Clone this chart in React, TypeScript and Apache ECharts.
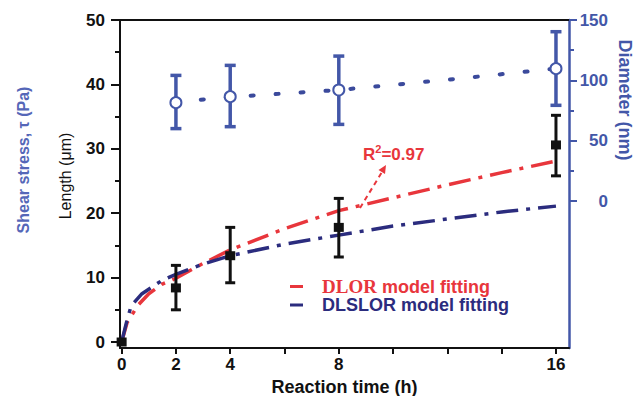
import React, { useEffect, useRef } from "react";
import * as echarts from "echarts";

// ---- data ----
const timeTicks = [0, 2, 4, 6, 8, 10, 12, 14, 16];
const timeLabels = [0, 2, 4, 8, 16];
const lengthMajor = [0, 10, 20, 30, 40, 50];
const lengthMinor = [5, 15, 25, 35, 45];
const diamMajor = [0, 50, 100, 150];
const diamMinor = [25, 75, 125];

const lengthT = [0, 2, 4, 8, 16];
const lengthMean = [0, 8.4, 13.4, 17.8, 30.6];
const lengthLow = [0, 5.0, 9.2, 13.2, 25.8];
const lengthHigh = [0, 11.9, 17.8, 22.3, 35.2];

const diamT = [2, 4, 8, 16];
const diamMean = [81.5, 86.5, 92.0, 109.7];
const diamLow = [60.0, 61.6, 63.5, 79.3];
const diamHigh = [104.1, 112.4, 120.1, 140.3];

const diamTrendT = [2, 4, 8, 12, 16];
const diamTrendV = [82.0, 86.2, 92.0, 100.5, 109.7];

const dlorT = [0, 0.2, 0.6, 1.0, 1.5, 2, 3, 4, 6, 8, 10, 12, 14, 16];
const dlorV = [0, 3.0, 5.7, 7.5, 9.0, 9.9, 12.2, 14.3, 17.6, 20.4, 22.4, 24.4, 26.3, 28.1];

const dlslorT = [0, 0.2, 0.35, 0.75, 1.5, 2, 3, 4, 6, 8, 10, 12, 14, 16];
const dlslorV = [0, 3.4, 5.6, 7.5, 9.6, 10.5, 12.1, 13.4, 15.2, 16.6, 18.0, 19.1, 20.2, 21.1];

const RED = "#e8363c";
const NAVY = "#2b2c7e";
const BLUE = "#4357a8";
const FONT = "Liberation Sans, Arial, sans-serif";
const SERIF = "Liberation Serif, Times New Roman, serif";

function errorBar(color: string, lw: number, halfCap: number) {
  return (params: any, api: any) => {
    const x = api.value(0);
    const lo = api.value(1);
    const hi = api.value(2);
    if (lo === hi) return null;
    const a = api.coord([x, hi]);
    const b = api.coord([x, lo]);
    const style = { stroke: color, lineWidth: lw };
    return {
      type: "group",
      children: [
        { type: "line", shape: { x1: a[0], y1: a[1], x2: b[0], y2: b[1] }, style },
        { type: "line", shape: { x1: a[0] - halfCap, y1: a[1], x2: a[0] + halfCap, y2: a[1] }, style },
        { type: "line", shape: { x1: b[0] - halfCap, y1: b[1], x2: b[0] + halfCap, y2: b[1] }, style },
      ],
    };
  };
}

const zip = (a: number[], b: number[]) => a.map((v, i) => [v, b[i]]);

export default function App() {
  const ref = useRef<HTMLDivElement>(null);
  useEffect(() => {
    const chart = echarts.init(ref.current!, null, { renderer: "svg" });
    const xMin = -0.06;
    const xMax = 16.48;
    const lMin = -0.93;
    const lMax = 50;
    const dMin = -121.8;
    const dMax = 150;
    const option: any = {
      animation: false,
      backgroundColor: "#fff",
      grid: { left: 120, right: 67, top: 20, bottom: 48, containLabel: false, outerBoundsMode: "none" },
      xAxis: [
        {
          type: "value",
          position: "bottom",
          min: xMin,
          max: xMax,
          splitLine: { show: false },
          axisLine: { onZero: false, lineStyle: { color: "#111", width: 2 } },
          axisTick: { customValues: timeTicks, length: 6, lineStyle: { color: "#111", width: 2 } },
          axisLabel: {
            customValues: timeLabels,
            color: "#111",
            fontWeight: "bold",
            fontSize: 17,
            fontFamily: FONT,
            margin: 8,
          },
          name: "Reaction time (h)",
          nameLocation: "middle",
          nameGap: 30,
          nameTextStyle: { color: "#111", fontWeight: "bold", fontSize: 18, fontFamily: FONT },
        },
        {
          type: "value",
          position: "top",
          min: xMin,
          max: xMax,
          splitLine: { show: false },
          axisLine: { onZero: false, lineStyle: { color: "#111", width: 2 } },
          axisTick: { show: false },
          axisLabel: { show: false },
        },
      ],
      yAxis: [
        {
          type: "value",
          position: "left",
          min: lMin,
          max: lMax,
          splitLine: { show: false },
          axisLine: { show: true, onZero: false, lineStyle: { color: "#111", width: 2 } },
          axisTick: { show: true, customValues: lengthMajor, length: 9, lineStyle: { color: "#111", width: 2 } },
          axisLabel: {
            customValues: lengthMajor,
            color: "#111",
            fontWeight: "bold",
            fontSize: 17,
            fontFamily: FONT,
            margin: 15,
          },
        },
        {
          type: "value",
          position: "right",
          min: dMin,
          max: dMax,
          splitLine: { show: false },
          axisLine: { show: true, onZero: false, lineStyle: { color: BLUE, width: 2.5 } },
          axisTick: { show: true, customValues: diamMajor, length: 8, lineStyle: { color: BLUE, width: 2 } },
          axisLabel: {
            customValues: diamMajor,
            color: BLUE,
            fontWeight: "bold",
            fontSize: 17,
            fontFamily: FONT,
            align: "right",
            margin: 39,
          },
        },
        {
          type: "value",
          position: "left",
          min: lMin,
          max: lMax,
          splitLine: { show: false },
          axisLine: { show: false, onZero: false },
          axisTick: { show: true, customValues: lengthMinor, length: 5, lineStyle: { color: "#111", width: 2 } },
          axisLabel: { show: false },
        },
        {
          type: "value",
          position: "right",
          min: dMin,
          max: dMax,
          splitLine: { show: false },
          axisLine: { show: false, onZero: false },
          axisTick: { show: true, customValues: diamMinor, length: 5, lineStyle: { color: BLUE, width: 2 } },
          axisLabel: { show: false },
        },
      ],
      legend: {
        show: true,
        orient: "vertical",
        left: 290,
        top: 277,
        padding: 0,
        itemGap: 0,
        itemWidth: 13,
        itemHeight: 3,
        icon: "rect",
        selectedMode: false,
        data: ["DLOR model fitting", "DLSLOR model fitting"],
        formatter: (name: string) =>
          name === "DLOR model fitting"
            ? "{p| }{sr|DLOR} {tr|model fitting}"
            : "{p| }{tn|DLSLOR model fitting}",
        textStyle: {
          fontSize: 18,
          fontFamily: FONT,
          rich: {
            p: { width: 14, fontSize: 18 },
            sr: { color: RED, fontWeight: "bold", fontSize: 19, fontFamily: SERIF },
            tr: { color: RED, fontWeight: "bold", fontSize: 18, fontFamily: FONT },
            tn: { color: NAVY, fontWeight: "bold", fontSize: 18, fontFamily: FONT },
          },
        },
      },
      series: [
        {
          name: "DLOR model fitting",
          type: "line",
          xAxisIndex: 0,
          yAxisIndex: 0,
          data: zip(dlorT, dlorV),
          showSymbol: false,
          itemStyle: { color: RED },
          lineStyle: { color: RED, width: 3.5, type: [22, 8, 4, 8] },
          z: 2,
        },
        {
          name: "DLSLOR model fitting",
          type: "line",
          xAxisIndex: 0,
          yAxisIndex: 0,
          data: zip(dlslorT, dlslorV),
          showSymbol: false,
          itemStyle: { color: NAVY },
          lineStyle: { color: NAVY, width: 3.5, type: [22, 8, 4, 8] },
          z: 2,
        },
        {
          name: "Diameter trend",
          type: "line",
          xAxisIndex: 0,
          yAxisIndex: 1,
          data: zip(diamTrendT, diamTrendV),
          showSymbol: false,
          itemStyle: { color: "#3b4a9c" },
          lineStyle: { color: "#3b4a9c", width: 4, type: [3, 22], cap: "round" },
          z: 2,
        },
        {
          name: "Length error",
          type: "custom",
          xAxisIndex: 0,
          yAxisIndex: 0,
          renderItem: errorBar("#111", 3, 5),
          encode: { x: 0, y: [1, 2] },
          data: lengthT.map((t, i) => [t, lengthLow[i], lengthHigh[i]]),
          clip: false,
          z: 3,
        },
        {
          name: "Length",
          type: "scatter",
          xAxisIndex: 0,
          yAxisIndex: 0,
          data: zip(lengthT, lengthMean),
          symbol: "rect",
          symbolSize: [10, 9],
          itemStyle: { color: "#111", opacity: 1 },
          z: 4,
        },
        {
          name: "Diameter error",
          type: "custom",
          xAxisIndex: 0,
          yAxisIndex: 1,
          renderItem: errorBar(BLUE, 3.5, 5.5),
          encode: { x: 0, y: [1, 2] },
          data: diamT.map((t, i) => [t, diamLow[i], diamHigh[i]]),
          clip: false,
          z: 3,
        },
        {
          name: "Diameter",
          type: "scatter",
          xAxisIndex: 0,
          yAxisIndex: 1,
          data: zip(diamT, diamMean),
          symbol: "circle",
          symbolSize: 11,
          itemStyle: { color: "#fff", borderColor: BLUE, borderWidth: 2, opacity: 1 },
          z: 4,
        },
      ],
      graphic: [
        {
          type: "text",
          x: 23,
          y: 160,
          rotation: Math.PI / 2,
          style: {
            text: "Shear stress, τ (Pa)",
            fill: "#5567b8",
            font: `bold 16px ${FONT}`,
            align: "center",
            verticalAlign: "middle",
          },
        },
        {
          type: "text",
          x: 65,
          y: 176,
          rotation: Math.PI / 2,
          style: {
            text: "Length (μm)",
            fill: "#111",
            font: `16px ${FONT}`,
            align: "center",
            verticalAlign: "middle",
          },
        },
        {
          type: "text",
          x: 625,
          y: 100,
          rotation: -Math.PI / 2,
          style: {
            text: "Diameter (nm)",
            fill: BLUE,
            font: `bold 18px ${FONT}`,
            align: "center",
            verticalAlign: "middle",
          },
        },
        {
          type: "text",
          x: 363,
          y: 153,
          style: {
            text: "{a|R}{b|2}{a|=0.97}",
            align: "left",
            verticalAlign: "middle",
            rich: {
              a: { fill: RED, fontWeight: "bold", fontSize: 17, fontFamily: FONT, lineHeight: 20, verticalAlign: "bottom" },
              b: { fill: RED, fontWeight: "bold", fontSize: 11, fontFamily: FONT, lineHeight: 20, verticalAlign: "top" },
            },
          },
        },
        {
          type: "line",
          shape: { x1: 360, y1: 208, x2: 382, y2: 172 },
          style: { stroke: RED, lineWidth: 2, lineDash: [5, 4] },
        },
        {
          type: "polygon",
          shape: { points: [[386, 165], [385, 174], [378.5, 170]] },
          style: { fill: RED },
        },
      ],
    };
    chart.setOption(option);
    return () => chart.dispose();
  }, []);
  return (
    <div
      ref={ref}
      style={{ position: "fixed", left: 0, top: 0, width: 636, height: 396, background: "#fff" }}
    />
  );
}
